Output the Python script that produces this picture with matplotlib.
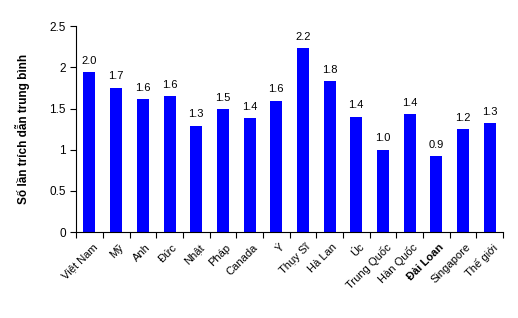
import numpy as np
import matplotlib
matplotlib.use("Agg")
import matplotlib.pyplot as plt

plt.rcParams['font.family'] = ['Liberation Sans', 'DejaVu Sans']

countries = ["Việt Nam", "Mỹ", "Anh", "Đức", "Nhật", "Pháp", "Canada", "Ý",
             "Thụy Sĩ", "Hà Lan", "Úc", "Trung Quốc", "Hàn Quốc", "Đài Loan",
             "Singapore", "Thế giới"]
values = [1.94, 1.75, 1.61, 1.65, 1.29, 1.49, 1.38, 1.59,
          2.23, 1.83, 1.40, 1.00, 1.43, 0.92, 1.25, 1.32]
value_labels = ["2.0", "1.7", "1.6", "1.6", "1.3", "1.5", "1.4", "1.6",
                "2.2", "1.8", "1.4", "1.0", "1.4", "0.9", "1.2", "1.3"]

fig = plt.figure(figsize=(5.18, 3.18), dpi=100)
ax = fig.add_axes([0.147, 0.270, 0.824, 0.648])

x = np.arange(len(countries))
ax.bar(x, values, width=0.45, color="#0000FF")

for xi, v, lab in zip(x, values, value_labels):
    ax.text(xi, v + 0.08, lab, ha="center", va="bottom", fontsize=8)

ax.set_xlim(-0.5, len(countries) - 0.5)
ax.set_ylim(0, 2.5)
ax.set_yticks([0, 0.5, 1, 1.5, 2, 2.5])
ax.set_yticklabels(["0", "0.5", "1", "1.5", "2", "2.5"], fontsize=8.5)
ax.set_xticks(np.arange(len(countries) + 1) - 0.5)
ax.set_xticklabels([])
ax.tick_params(axis="x", direction="out", length=4)
ax.tick_params(axis="y", direction="out", length=4)

for xi, name in zip(x, countries):
    ax.text(xi + 0.1, -0.12, name, rotation=45, ha="right", va="top",
            rotation_mode="anchor", fontsize=8,
            fontweight="bold" if name == "Đài Loan" else "normal",
            transform=ax.transData)

ax.spines["top"].set_visible(False)
ax.spines["right"].set_visible(False)
ax.set_ylabel("Số lần trích dẫn trung bình", fontsize=8.5, fontweight="bold", labelpad=14)

fig.savefig("out.png", dpi=100)
